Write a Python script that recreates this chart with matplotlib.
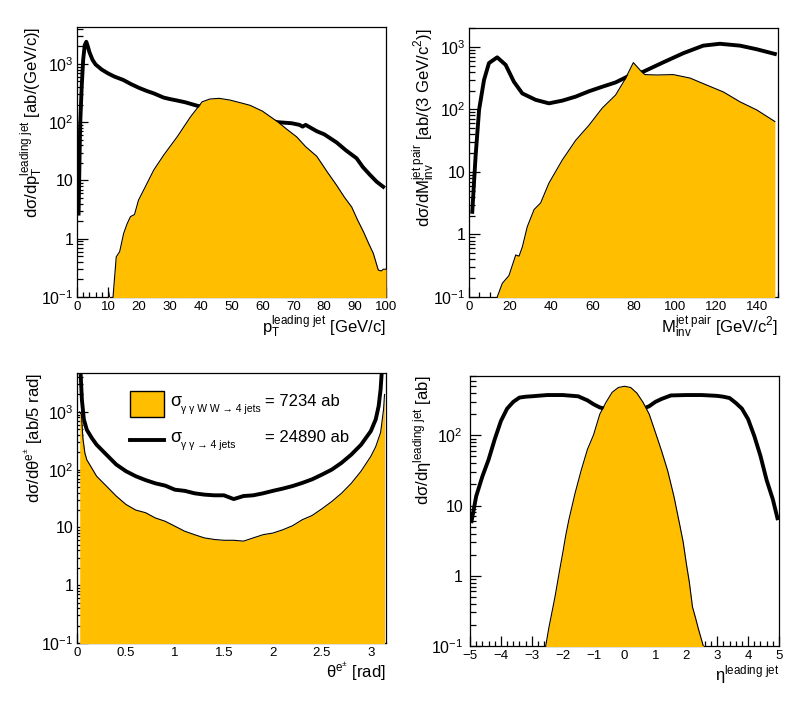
import numpy as np
import matplotlib
matplotlib.use('Agg')
import matplotlib.pyplot as plt
from matplotlib.ticker import FixedLocator, MultipleLocator, FuncFormatter
from matplotlib.patches import Rectangle
from matplotlib.lines import Line2D

plt.rcParams['font.family'] = ['Liberation Sans', 'DejaVu Sans']
plt.rcParams['mathtext.fontset'] = 'custom'
plt.rcParams['mathtext.rm'] = 'Liberation Sans'
plt.rcParams['mathtext.it'] = 'Liberation Sans:italic'
plt.rcParams['mathtext.default'] = 'regular'

ORANGE = '#FFBF00'

# leading jet pT : all 4-jet events (black) and gamma gamma -> WW (orange)
pt_x = [0.5, 1, 1.5, 2, 2.5, 3, 3.5, 4, 5, 6, 8, 10, 12, 15, 17.5, 20, 22.5, 25, 28, 30,
        32.5, 35, 38.4, 40, 45, 50, 55, 60, 65, 69.5, 72, 73, 74, 77.6, 80, 84, 87, 90.5,
        92.5, 94.8, 97, 99.1]
pt_all = [2.7, 85, 400, 1200, 2100, 2400, 2000, 1600, 1180, 980, 800, 690, 610, 530, 450,
          390, 345, 310, 265, 250, 235, 220, 195, 185, 160, 140, 125, 112, 100, 96, 90, 84,
          90, 70, 62, 45, 33, 24, 17, 12.5, 9.5, 7.8]
pt_ww_x = [10.0, 10.3, 10.7, 11.65, 12.7, 13.8, 15.1, 16.2, 17.3, 18.6, 19.9, 22.1, 24.8,
           28.1, 32.4, 36.7, 40.5, 43, 46, 49.5, 53, 56, 60, 65.1, 68, 71.1, 74, 77.6, 81,
           84, 86.5, 88.9, 90.8, 92.7, 94.3, 95.9, 97.5, 98.5, 99.1, 100]
pt_ww = [0.08, 0.12, 0.08, 0.1, 0.49, 0.6, 1.24, 1.8, 2.4, 2.6, 4.6, 7.8, 15, 27.5, 56, 123,
         224, 250, 257, 240, 215, 195, 155, 100, 75, 56, 38, 26, 14, 8.3, 5.2, 3.5, 2.1,
         1.32, 0.85, 0.56, 0.29, 0.28, 0.3, 0.3]

# jet pair invariant mass
m_x = [1.6, 3.2, 4.9, 7.3, 9.7, 13.7, 17.8, 21.8, 25.9, 32.4, 38.8, 45.3, 51.8, 58.3, 64.7,
       71.2, 76.8, 84.6, 94.3, 104, 113.7, 121.8, 131.6, 139.7, 148.5]
m_all = [2.3, 17.6, 98, 295, 550, 680, 515, 277, 180, 142, 125, 138, 160, 195, 230, 270,
         333, 400, 565, 790, 1045, 1120, 1045, 915, 770]
m_ww_x = [13.7, 16.2, 19.4, 22.7, 24.3, 25.9, 28.3, 31.6, 34.8, 38.8, 45.3, 51.8, 58.3, 64.7,
          71.2, 75.7, 79.8, 83.8, 85.4, 91.1, 99.2, 107.3, 115.4, 123.5, 131.6, 139.7, 148.5]
m_ww = [0.1, 0.166, 0.22, 0.47, 0.45, 0.63, 1.33, 2.5, 3.2, 6.6, 15.5, 32, 56, 105, 170, 300,
        560, 400, 360, 355, 360, 317, 245, 190, 132, 98, 64]

# polar angle of e+-
th_x = [0.03, 0.05, 0.07, 0.1, 0.15, 0.2, 0.3, 0.4, 0.5, 0.6, 0.7, 0.8, 0.9, 1.0, 1.1, 1.2,
        1.3, 1.4, 1.5, 1.6, 1.7, 1.8, 1.9, 2.0, 2.1, 2.2, 2.3, 2.4, 2.5, 2.6, 2.7, 2.8, 2.9,
        3.0, 3.05, 3.08, 3.1, 3.12]
th_all = [8000, 1600, 740, 490, 355, 270, 182, 123, 94, 77, 66, 58, 53, 45, 43, 39, 37, 36,
          36, 31, 35, 36, 39, 43, 47, 52, 59, 68, 82, 100, 131, 182, 270, 465, 740, 1260,
          2450, 8000]
th_ww_x = [0.027, 0.045, 0.06, 0.08, 0.1, 0.15, 0.2, 0.3, 0.4, 0.5, 0.6, 0.7, 0.8, 0.9, 1.0,
           1.1, 1.2, 1.3, 1.4, 1.5, 1.6, 1.7, 1.8, 1.9, 2.0, 2.1, 2.2, 2.3, 2.4, 2.5, 2.6,
           2.7, 2.8, 2.9, 3.0, 3.05, 3.1, 3.13, 3.14]
th_ww = [1000, 900, 350, 195, 148, 107, 77, 52, 35, 25, 20, 18, 14.6, 12.8, 10.5, 8.6, 7.5,
         6.6, 6.2, 6.0, 6.0, 5.8, 6.6, 7.5, 8, 9.1, 10.7, 13.6, 16.1, 21, 28, 39, 58, 94, 170,
         250, 440, 1100, 2000]

# leading jet pseudorapidity
eta_x = [-4.95, -4.8, -4.6, -4.4, -4.2, -4.0, -3.8, -3.6, -3.4, -3.2, -3.0, -2.5, -2.0, -1.5,
         -1.2, -1.0, -0.8, -0.5, 0, 0.5, 0.8, 1.0, 1.2, 1.5, 2.0, 2.5, 3.0, 3.2, 3.4, 3.6,
         3.8, 4.0, 4.2, 4.4, 4.6, 4.8, 4.95]
eta_all = [6, 13.6, 26, 45, 88, 160, 240, 300, 345, 355, 360, 375, 375, 360, 315, 277, 250,
           230, 210, 230, 260, 300, 330, 370, 375, 375, 365, 355, 340, 290, 240, 170, 98, 51,
           23, 12.3, 6.6]
eta_ww_x = [-2.55, -2.45, -2.35, -2.25, -2.1, -2.0, -1.9, -1.8, -1.6, -1.4, -1.2, -1.0, -0.8,
            -0.6, -0.4, -0.2, 0, 0.2, 0.4, 0.6, 0.8, 1.0, 1.2, 1.4, 1.6, 1.8, 1.9, 2.0, 2.1,
            2.2, 2.3, 2.4, 2.55]
eta_ww = [0.1, 0.18, 0.3, 0.5, 1.2, 2.1, 3.8, 6.3, 15, 32, 63, 102, 200, 295, 410, 480, 500,
          480, 400, 295, 200, 110, 60, 31, 13.5, 5, 3.0, 1.5, 0.8, 0.36, 0.25, 0.17, 0.1]

sigma_ww = '7234 ab'
sigma_all = '24890 ab'

ylabels = {0.1: '10$^{-1}$', 1: '1', 10: '10', 100: '10$^{2}$', 1000: '10$^{3}$'}


def xfmt(v, pos):
    s = '%g' % v
    return s.replace('-', '\u2212')


def panel(rect, xa, ya, xw, yw, xlim, ylim, xmaj, xmin, xlabel, ylabel, ypad=2.5):
    ax = fig.add_axes(rect)
    ax.plot(xa, ya, color='black', lw=2.8, zorder=2, solid_joinstyle='round')
    ax.fill_between(xw, yw, 1e-4, color=ORANGE, lw=0, zorder=3)
    ax.plot(xw, yw, color='black', lw=0.8, zorder=4)
    ax.set_yscale('log')
    ax.set_xlim(xlim)
    ax.set_ylim(ylim)
    ax.yaxis.set_major_locator(FixedLocator([v for v in ylabels if v <= ylim[1]]))
    ax.yaxis.set_major_formatter(FuncFormatter(lambda v, p: ylabels.get(round(v, 3), '')))
    ax.yaxis.set_minor_locator(FixedLocator([k * 10.0 ** n for n in range(-1, 4) for k in range(2, 10)]))
    ax.yaxis.set_minor_formatter(FuncFormatter(lambda v, p: ''))
    ax.xaxis.set_major_locator(MultipleLocator(xmaj))
    ax.xaxis.set_minor_locator(MultipleLocator(xmin))
    ax.xaxis.set_major_formatter(FuncFormatter(xfmt))
    ax.tick_params(which='both', direction='in', top=False, right=False, width=0.9)
    ax.tick_params(axis='y', which='major', length=8, labelsize=11.5, pad=ypad)
    ax.tick_params(axis='y', which='minor', length=4)
    ax.tick_params(axis='x', which='major', length=7, labelsize=9.5, pad=3)
    ax.tick_params(axis='x', which='minor', length=3.5)
    for s in ax.spines.values():
        s.set_linewidth(0.9)
    ax.set_xlabel(xlabel, loc='right', fontsize=12, labelpad=0.5)
    ax.set_ylabel(ylabel, loc='top', fontsize=12, labelpad=-2.5)
    return ax


fig = plt.figure(figsize=(8.04, 7.04), dpi=100)

panel([0.0958, 0.5781, 0.3843, 0.3835], pt_x, pt_all, pt_ww_x, pt_ww, (0, 100), (0.1, 4300),
      10, 2, '$p_{T}^{leading\\ jet}$ [GeV/c]', 'dσ/d$p_{T}^{leading\\ jet}$ [ab/(GeV/c)]')
panel([0.5833, 0.5781, 0.3843, 0.3821], m_x, m_all, m_ww_x, m_ww, (0, 150), (0.1, 2000),
      20, 5, '$M_{inv}^{jet\\ pair}$ [GeV/c$^{2}$]', 'dσ/d$M_{inv}^{jet\\ pair}$ [ab/(3 GeV/c$^{2}$)]')
ax3 = panel([0.0958, 0.0866, 0.3843, 0.3835], th_x, th_all, th_ww_x, th_ww, (0, 3.155), (0.1, 4700),
            0.5, 0.1, 'θ$^{e^{±}}$ [rad]', 'dσ/dθ$^{e^{±}}$ [ab/5 rad]')
panel([0.5846, 0.0824, 0.3843, 0.3835], eta_x, eta_all, eta_ww_x, eta_ww, (-5, 5), (0.1, 700),
      1, 0.2, 'η$^{leading\\ jet}$', 'dσ/dη$^{leading\\ jet}$ [ab]', ypad=5)

# legend drawn by hand so the "=" signs line up as in the original
ax3.add_patch(Rectangle((0.172, 0.837), 0.11, 0.096, transform=ax3.transAxes,
                        facecolor=ORANGE, edgecolor='black', lw=1, zorder=6))
ax3.add_line(Line2D([0.172, 0.282], [0.752, 0.752], transform=ax3.transAxes,
                    color='black', lw=2.8, zorder=6))
entries = [(0.878, 'γ γ W W → 4 jets', sigma_ww), (0.746, 'γ γ → 4 jets', sigma_all)]
for yb, sub, val in entries:
    ax3.text(0.302, yb, 'σ', transform=ax3.transAxes, fontsize=13, va='baseline', zorder=6)
    ax3.text(0.337, yb - 0.022, sub, transform=ax3.transAxes, fontsize=7.5,
             va='baseline', zorder=6)
    ax3.text(0.608, yb, '= ' + val, transform=ax3.transAxes, fontsize=12,
             va='baseline', zorder=6)

fig.savefig('out.png', dpi=100)
